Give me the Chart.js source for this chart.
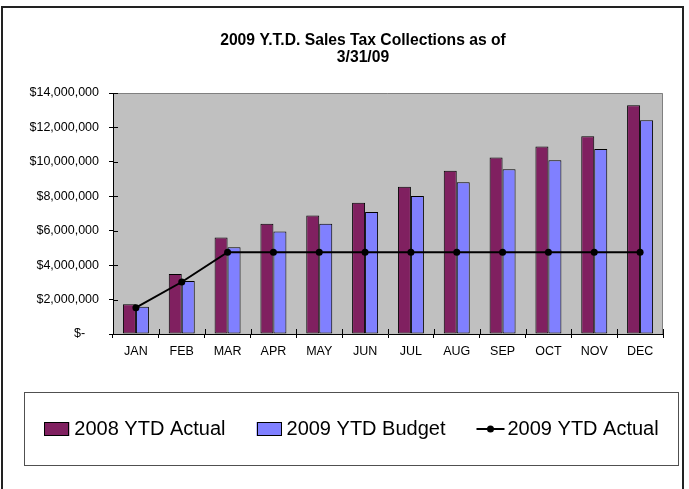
<!DOCTYPE html>
<html>
<head>
<meta charset="utf-8">
<script src="https://cdn.jsdelivr.net/npm/chart.js@4/dist/chart.umd.min.js"></script>
<style>
  html, body { margin: 0; padding: 0; background: #ffffff; }
  #wrap { position: relative; width: 689px; height: 489px; }
</style>
</head>
<body>
<div id="wrap"><canvas id="c" width="689" height="489"></canvas></div>
<script>
const chartTitle = ['2009 Y.T.D. Sales Tax Collections as of', '3/31/09'];
const months = ['JAN','FEB','MAR','APR','MAY','JUN','JUL','AUG','SEP','OCT','NOV','DEC'];
const seriesNames = ['2008 YTD Actual', '2009 YTD Budget', '2009 YTD Actual'];
const actual2008 = [1730000, 3490000, 5600000, 6410000, 6880000, 7630000, 8560000, 9490000, 10250000, 10890000, 11490000, 13290000];
const budget2009 = [1590000, 3080000, 5040000, 5950000, 6400000, 7090000, 8020000, 8810000, 9570000, 10090000, 10740000, 12420000];
const actual2009 = [1530000, 3020000, 4750000, 4750000, 4750000, 4750000, 4750000, 4750000, 4750000, 4750000, 4750000, 4750000];
const yTickValues = [0, 2000000, 4000000, 6000000, 8000000, 10000000, 12000000, 14000000];

const MAROON = '#802060';
const BLUE = '#8080FF';
const FONT = 'Arial, "Liberation Sans", sans-serif';

const framePlugin = {
  id: 'frame',
  beforeDraw(chart) {
    const ctx = chart.ctx;
    const a = chart.chartArea;
    ctx.save();
    ctx.fillStyle = '#ffffff';
    ctx.fillRect(0, 0, chart.width, chart.height);
    ctx.fillStyle = '#C0C0C0';
    ctx.fillRect(a.left, a.top, a.right - a.left, a.bottom - a.top);
    ctx.strokeStyle = '#808080';
    ctx.lineWidth = 1;
    ctx.beginPath();
    ctx.moveTo(a.left, a.top + 0.5);
    ctx.lineTo(a.right - 0.5, a.top + 0.5);
    ctx.lineTo(a.right - 0.5, a.bottom);
    ctx.stroke();
    ctx.restore();
  },
  afterDraw(chart) {
    const ctx = chart.ctx;
    const a = chart.chartArea;
    const xs = chart.scales.x, ys = chart.scales.y;
    ctx.save();
    ctx.strokeStyle = '#000';
    ctx.lineWidth = 1;
    ctx.beginPath();
    yTickValues.forEach(v => {
      const y = Math.round(ys.getPixelForValue(v)) + 0.5;
      ctx.moveTo(a.left, y); ctx.lineTo(a.left + 5, y);
    });
    const n = months.length;
    for (let i = 1; i <= n; i++) {
      const x = Math.round(xs.left + i * (xs.right - xs.left) / n) + 0.5;
      ctx.moveTo(x, a.bottom); ctx.lineTo(x, a.bottom - 5);
    }
    ctx.stroke();

    ctx.fillStyle = '#000';
    ctx.font = 'bold 15.7px ' + FONT;
    ctx.textAlign = 'center';
    ctx.textBaseline = 'middle';
    chartTitle.forEach((t, i) => ctx.fillText(t, 363, 41 + i * 17));
    ctx.textAlign = 'left';

    ctx.strokeStyle = '#222';
    ctx.lineWidth = 2;
    ctx.strokeRect(2, 7, 681, 600);

    const lb = { l: 24.5, t: 392.5, r: 678.5, b: 465.5 };
    ctx.strokeStyle = '#505050';
    ctx.lineWidth = 1;
    ctx.strokeRect(lb.l, lb.t, lb.r - lb.l, lb.b - lb.t);

    ctx.font = '20px ' + FONT;
    ctx.textBaseline = 'middle';
    const cy = (lb.t + lb.b) / 2;
    const sw = 25, gap = 5, itemGap = 31, lineW = 28, lineGap = 3;
    const w = seriesNames.map(s => ctx.measureText(s).width);
    const total = sw + gap + w[0] + itemGap + sw + gap + w[1] + itemGap + lineW + lineGap + w[2];
    let x = (lb.l + lb.r) / 2 - total / 2;
    const colors = [MAROON, BLUE];
    for (let i = 0; i < 2; i++) {
      ctx.fillStyle = colors[i];
      ctx.fillRect(x, cy - 7, sw, 14);
      ctx.strokeStyle = '#000';
      ctx.lineWidth = 1;
      ctx.strokeRect(Math.round(x) + 0.5, Math.round(cy - 7) + 0.5, sw - 1, 13);
      x += sw + gap;
      ctx.fillStyle = '#000';
      ctx.fillText(seriesNames[i], x, cy);
      x += w[i] + itemGap;
    }
    ctx.strokeStyle = '#000';
    ctx.lineWidth = 2;
    ctx.beginPath();
    ctx.moveTo(x, cy); ctx.lineTo(x + lineW, cy);
    ctx.stroke();
    ctx.fillStyle = '#000';
    ctx.beginPath();
    ctx.arc(x + lineW / 2, cy, 3.5, 0, Math.PI * 2);
    ctx.fill();
    x += lineW + lineGap;
    ctx.fillText(seriesNames[2], x, cy);
    ctx.restore();
  }
};

new Chart(document.getElementById('c'), {
  type: 'bar',
  data: {
    labels: months,
    datasets: [
      { type: 'line', label: seriesNames[2], data: actual2009, borderColor: '#000', backgroundColor: '#000',
        borderWidth: 2, pointRadius: 3.5, pointBackgroundColor: '#000', pointBorderColor: '#000', pointBorderWidth: 0,
        tension: 0, order: 0 },
      { label: seriesNames[0], data: actual2008, backgroundColor: MAROON, borderColor: '#000', borderWidth: 1,
        borderSkipped: false, categoryPercentage: 0.567, barPercentage: 1, order: 1 },
      { label: seriesNames[1], data: budget2009, backgroundColor: BLUE, borderColor: '#000', borderWidth: 1,
        borderSkipped: false, categoryPercentage: 0.567, barPercentage: 1, order: 1 }
    ]
  },
  options: {
    responsive: false,
    animation: false,
    devicePixelRatio: 1,
    layout: { padding: { top: 93, left: 0, right: 26, bottom: 125 } },
    plugins: {
      legend: { display: false },
      tooltip: { enabled: false },
      title: { display: false }
    },
    scales: {
      x: {
        grid: { display: true, drawOnChartArea: false, drawTicks: true, tickLength: 4, color: '#000', offset: true },
        border: { display: true, color: '#000', width: 1 },
        ticks: { color: '#000', font: { family: FONT, size: 12.5 }, padding: 6, maxRotation: 0, autoSkip: false },
        afterFit(scale) { scale.height = 30; }
      },
      y: {
        min: 0, max: 14000000,
        afterBuildTicks(scale) { scale.ticks = yTickValues.map(v => ({ value: v })); },
        grid: { display: true, drawOnChartArea: false, drawTicks: true, tickLength: 4, color: '#000' },
        border: { display: true, color: '#000', width: 1 },
        ticks: {
          color: '#000', font: { family: FONT, size: 12.5 }, padding: 10,
          callback: (v) => v === 0 ? '$-    ' : '$' + Number(v).toLocaleString('en-US')
        },
        afterFit(scale) { scale.width = 113; }
      }
    }
  },
  plugins: [framePlugin]
});
</script>
</body>
</html>
